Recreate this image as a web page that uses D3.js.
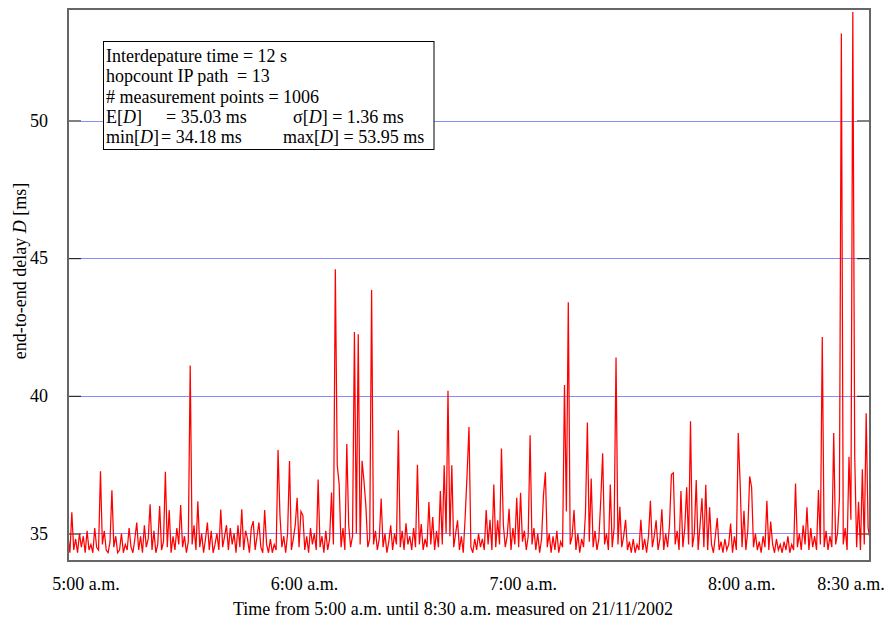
<!DOCTYPE html>
<html>
<head>
<meta charset="utf-8">
<script src="https://cdn.jsdelivr.net/npm/d3@7"></script>
<style>
  body { margin: 0; background: #fff; }
  svg { display: block; font-family: "Liberation Serif", "Times New Roman", serif; }
</style>
</head>
<body>
<svg id="chart" width="885" height="621"></svg>
<script>
// one delay sample every 30 s, from 5:00 to 8:30 (ms)
const delays = [
  34.9, 34.3, 35.77, 34.4, 34.8, 34.3, 35.0, 34.5, 34.9, 34.3, 35.1, 34.4, 34.6, 34.3, 35.2, 34.5, 34.4, 37.26, 34.6, 35.1,
  34.4, 34.3, 34.7, 36.57, 34.5, 34.9, 34.3, 34.4, 35.0, 34.3, 34.6, 34.4, 35.2, 34.5, 34.3, 34.8, 35.4, 34.4, 34.9, 34.3,
  35.3, 34.5, 34.8, 36.06, 34.4, 35.1, 34.3, 34.6, 36.0, 34.4, 34.7, 37.24, 34.5, 35.85, 34.3, 34.9, 34.4, 35.2, 34.6, 36.03,
  34.5, 34.9, 34.3, 34.7, 41.1, 34.6, 35.3, 34.4, 36.17, 34.5, 35.0, 34.3, 34.8, 35.4, 34.4, 35.1, 34.3, 34.6, 35.0, 34.4,
  35.87, 34.5, 34.9, 35.3, 34.4, 35.2, 34.6, 35.0, 34.3, 35.3, 34.5, 35.88, 34.4, 35.1, 34.8, 34.3, 35.2, 35.45, 34.4, 34.9,
  35.4, 34.5, 34.3, 35.85, 34.6, 34.3, 34.8, 34.3, 34.6, 34.4, 38.03, 35.66, 34.5, 34.9, 34.3, 35.0, 37.63, 34.4, 34.8, 35.3,
  36.3, 34.5, 35.8, 35.66, 34.4, 34.9, 34.3, 35.2, 34.6, 35.0, 34.4, 36.96, 34.5, 34.9, 34.3, 35.1, 34.4, 34.8, 36.49, 34.6,
  44.6, 37.48, 36.8, 34.5, 35.2, 34.4, 38.25, 35.3, 34.5, 34.9, 42.32, 35.0, 42.24, 34.6, 37.64, 36.9, 35.99, 34.5, 34.8, 43.84,
  34.6, 35.1, 34.4, 34.8, 36.27, 34.5, 35.0, 34.3, 34.7, 35.3, 34.4, 35.0, 34.6, 38.75, 34.5, 35.1, 34.4, 35.37, 34.6, 34.9,
  34.4, 35.2, 34.5, 37.5, 34.6, 35.34, 34.4, 34.8, 34.5, 36.14, 34.6, 35.6, 34.4, 35.1, 34.5, 36.54, 34.6, 37.48, 35.0, 40.18,
  34.9, 37.48, 34.5, 35.0, 35.48, 34.4, 34.9, 34.3, 35.6, 37.15, 38.87, 34.5, 34.3, 34.8, 34.4, 35.0, 34.5, 34.8, 34.4, 35.85,
  34.6, 35.5, 34.4, 36.78, 34.5, 35.48, 34.6, 38.09, 35.3, 34.5, 34.9, 35.9, 34.4, 35.2, 34.6, 36.3, 34.5, 36.48, 34.7, 35.1,
  34.4, 34.9, 38.57, 34.6, 35.2, 34.4, 35.0, 34.3, 34.8, 36.39, 37.22, 34.5, 35.0, 34.3, 34.9, 34.4, 35.1, 34.3, 34.7, 34.5,
  40.39, 35.8, 43.4, 34.6, 34.9, 35.85, 34.4, 35.0, 34.3, 34.8, 34.5, 35.75, 39.03, 34.7, 37.0, 34.5, 35.1, 34.4, 34.8, 36.21,
  37.91, 34.6, 35.0, 34.4, 36.78, 34.5, 35.2, 41.39, 34.6, 35.97, 34.5, 34.9, 35.5, 34.4, 34.7, 34.3, 34.8, 34.3, 34.6, 34.4,
  35.5, 34.4, 34.8, 34.3, 34.9, 36.19, 34.5, 34.9, 35.48, 34.4, 34.8, 35.88, 34.4, 35.0, 34.5, 35.3, 37.14, 37.2, 34.6, 35.1,
  34.4, 36.54, 34.5, 35.2, 36.68, 34.6, 39.08, 34.5, 35.0, 36.94, 34.4, 35.3, 36.28, 34.5, 36.77, 34.4, 35.95, 34.6, 34.3, 34.9,
  35.56, 34.4, 34.7, 34.3, 34.8, 34.4, 34.6, 35.36, 34.3, 34.9, 34.4, 38.65, 36.81, 34.5, 35.82, 34.4, 35.1, 37.07, 36.68, 34.5,
  35.0, 34.4, 34.7, 34.3, 34.9, 34.5, 36.19, 34.4, 35.43, 34.6, 34.3, 34.8, 34.4, 34.6, 34.3, 34.7, 34.4, 34.9, 34.3, 34.6,
  34.4, 36.81, 34.5, 35.0, 34.4, 35.3, 34.6, 35.95, 34.4, 35.2, 34.5, 34.9, 34.4, 36.58, 34.6, 42.14, 34.5, 35.1, 34.4, 34.9,
  34.5, 38.65, 34.6, 35.0, 36.28, 53.16, 34.6, 35.2, 34.4, 37.79, 35.5, 53.94, 37.79, 34.5, 36.15, 34.4, 37.33, 34.6, 39.37, 35.2,
  34.8
];
const yTicks = [35, 40, 45, 50];
const timeTicks = ["05:00", "06:00", "07:00", "08:00", "08:30"];
const timeTickLabels = ["5:00 a.m.", "6:00 a.m.", "7:00 a.m.", "8:00 a.m.", "8:30 a.m."];
const legendRows = [
  ["Interdepature time = 12 s"],
  ["hopcount IP path", "= 13"],
  ["# measurement points = 1006"],
  ["E[D]", "= 35.03 ms", "\u03c3[D] = 1.36 ms"],
  ["min[D]", "= 34.18 ms", "max[D] = 53.95 ms"]
];
const legendCols = [[106], [106, 237], [106], [106, 166, 293], [106, 161, 283]];

const svg = d3.select("#chart");
const plotL = 68, plotR = 870, plotT = 9, plotB = 561;

const parseT = d3.timeParse("%H:%M");
const t0 = parseT("05:00"), t1 = parseT("08:30");
const points = delays.map((v, i) => ({ t: new Date(t0.getTime() + i * 30000), v: v }));

const x = d3.scaleTime().domain([t0, t1]).range([plotL, plotR]);
const y = d3.scaleLinear().domain([34, 54.05]).range([plotB, plotT]);
// the time labels sit slightly right of the sample times in the original
const xLabel = d3.scaleTime().domain([t0, t1]).range([86, 851]);

// write a string with the variable D in italics
function rich(sel, str) {
  str.split("D").forEach((part, i) => {
    if (i > 0) sel.append("tspan").attr("font-style", "italic").text("D");
    if (part) sel.append("tspan").text(part);
  });
}

// grid lines
svg.append("g")
  .selectAll("line")
  .data(yTicks)
  .join("line")
  .attr("x1", plotL + 13).attr("x2", plotR - 13)
  .attr("y1", d => Math.round(y(d)) + 0.5).attr("y2", d => Math.round(y(d)) + 0.5)
  .attr("stroke", "#8a8aff")
  .attr("stroke-width", 1)
  .attr("shape-rendering", "crispEdges");

// y axis ticks, left and right, pointing inwards
svg.append("g")
  .attr("transform", `translate(${plotL},0)`)
  .call(d3.axisLeft(y).tickValues(yTicks).tickSize(-13).tickPadding(20))
  .call(g => g.select(".domain").remove())
  .call(g => g.selectAll("line").attr("stroke", "#000"))
  .call(g => g.selectAll("text").attr("font-size", 18).attr("font-family", "Liberation Serif").attr("fill", "#000"));
svg.append("g")
  .attr("transform", `translate(${plotR},0)`)
  .call(d3.axisRight(y).tickValues(yTicks).tickSize(-13).tickFormat(""))
  .call(g => g.select(".domain").remove())
  .call(g => g.selectAll("line").attr("stroke", "#000"));

// the measured delay
svg.append("clipPath").attr("id", "clip")
  .append("rect").attr("x", plotL).attr("y", plotT).attr("width", plotR - plotL).attr("height", plotB - plotT);
svg.append("path")
  .datum(points)
  .attr("clip-path", "url(#clip)")
  .attr("fill", "none")
  .attr("stroke", "#ff0000")
  .attr("stroke-width", 1.25)
  .attr("d", d3.line().x(d => x(d.t)).y(d => y(d.v)));

// frame
svg.append("rect")
  .attr("x", plotL).attr("y", plotT)
  .attr("width", plotR - plotL).attr("height", plotB - plotT)
  .attr("fill", "none").attr("stroke", "#666").attr("stroke-width", 2);

// x labels
svg.append("g")
  .selectAll("text")
  .data(timeTicks)
  .join("text")
  .attr("x", d => xLabel(parseT(d)))
  .attr("y", 590)
  .attr("text-anchor", "middle")
  .attr("font-size", 18)
  .text((d, i) => timeTickLabels[i]);

svg.append("text")
  .attr("x", 453).attr("y", 615)
  .attr("text-anchor", "middle")
  .attr("font-size", 18)
  .text("Time from 5:00 a.m. until 8:30 a.m. measured on 21/11/2002");

const yTitle = svg.append("text")
  .attr("transform", "translate(26,271) rotate(-90)")
  .attr("text-anchor", "middle")
  .attr("font-size", 18);
rich(yTitle, "end-to-end delay D [ms]");

// statistics box
const box = svg.append("g");
box.append("rect")
  .attr("x", 103.5).attr("y", 41.5)
  .attr("width", 330.5).attr("height", 108)
  .attr("fill", "#fff").attr("stroke", "#000").attr("stroke-width", 1);
legendRows.forEach((row, r) => {
  row.forEach((seg, c) => {
    const t = box.append("text")
      .attr("x", legendCols[r][c])
      .attr("y", 62 + r * 20.3)
      .attr("font-size", 18);
    rich(t, seg);
  });
});
</script>
</body>
</html>
